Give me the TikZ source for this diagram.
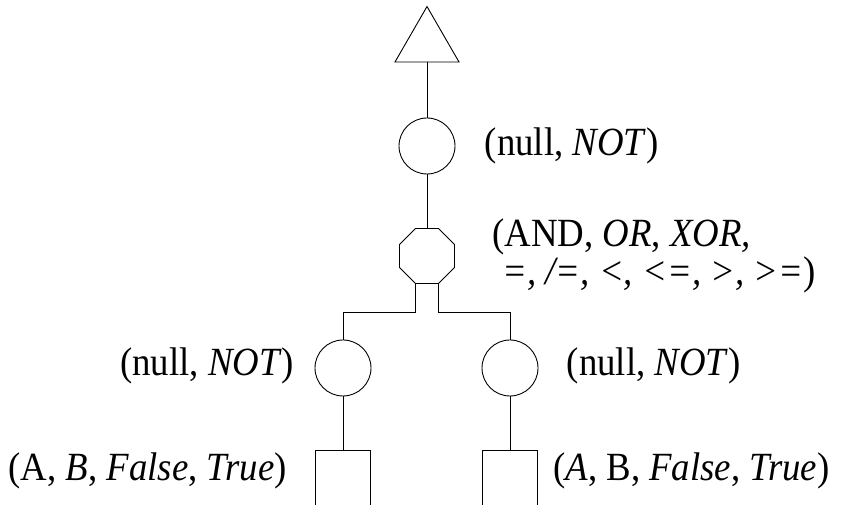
\documentclass[tikz,border=0pt]{standalone}
\usepackage{fontspec}
\setmainfont{Liberation Serif}[FakeStretch=0.92]
\usetikzlibrary{positioning,shapes.geometric}

\begin{document}
\begin{tikzpicture}[x=1pt,y=1pt,line width=.9pt,
    gate/.style={draw,circle,minimum size=56pt,inner sep=0pt},
    cmpgate/.style={draw,regular polygon,regular polygon sides=8,minimum size=59.6pt,inner sep=0pt},
    root/.style={draw,regular polygon,regular polygon sides=3,minimum size=73.9pt,inner sep=0pt},
    leaf/.style={draw,rectangle,minimum width=55pt,minimum height=80pt,inner sep=0pt},
    lbl/.style={inner sep=0pt,font=\fontsize{40}{34}\selectfont,align=left}]
  \useasboundingbox (0,0) rectangle (847,505);
  \clip (0,0) rectangle (847,505);
  \node[root] (top) at (427,461.5) {};
  \node[gate] (notop) at (427,359) {};
  \node[cmpgate] (cmp) at (427,249) {};
  \node[gate] (notl) at (343,137) {};
  \node[gate] (notr) at (510,137) {};
  \node[leaf,below=54pt of notl] (argl) {};
  \node[leaf,below=54pt of notr] (argr) {};
  \node[lbl,right=29pt of notop] (notoplbl) {(null, \textit{NOT})};
  \node[lbl,right=37pt of cmp] (cmplbl) {(AND, \textit{OR}, \textit{XOR,}\\
    \hspace*{10pt}\textit{=, /=, <, <=, >, >=})};
  \node[lbl,left=20pt of notl,yshift=2pt] (notllbl) {(null, \textit{NOT})};
  \node[lbl,right=28pt of notr,yshift=2pt] (notrlbl) {(null, \textit{NOT})};
  \node[lbl,left=28pt of argl.north west,yshift=-20pt] (argllbl) {(A, \textit{B}, \textit{False}, \textit{True})};
  \node[lbl,right=15pt of argr.north east,yshift=-20pt] (argrlbl) {(\textit{A}, B, \textit{False}, \textit{True})};
  \draw (top.south) -- (notop.north);
  \draw (notop.south) -- (cmp.north);
  \draw (cmp.247.5) -- ++(0,-28.5) -| (notl.north);
  \draw (cmp.292.5) -- ++(0,-28.5) -| (notr.north);
  \draw (notl.south) -- (argl.north);
  \draw (notr.south) -- (argr.north);
\end{tikzpicture}
\end{document}
